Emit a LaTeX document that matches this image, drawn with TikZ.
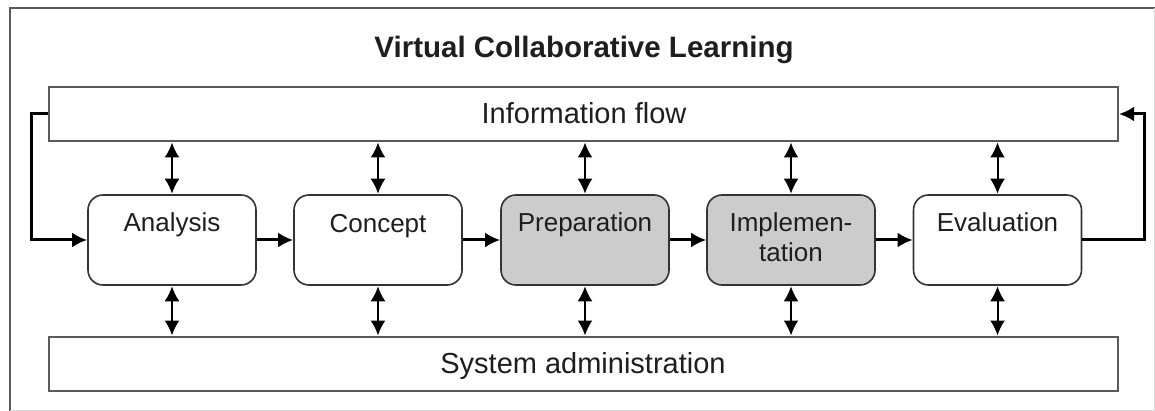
\documentclass[tikz,border=0pt]{standalone}
\usepackage{fontspec}
\setmainfont{Liberation Sans}
\usetikzlibrary{arrows.meta}
\definecolor{edge}{HTML}{333333}
\definecolor{bar}{HTML}{5A5A5A}
\definecolor{shade}{HTML}{CCCCCC}
\definecolor{ink}{HTML}{1E1E1E}
\tikzset{
  proc/.style={draw=edge, line width=1.6pt, rounded corners=15pt, fill=white,
    minimum width=168pt, minimum height=90pt, inner sep=0pt},
  active/.style={proc, fill=shade},
  strip/.style={draw=bar, line width=2pt, fill=white, minimum width=1069pt,
    minimum height=54pt, inner sep=0pt},
  lbl/.style={anchor=base, inner sep=0pt, font=\fontsize{26}{30}\selectfont, text=ink, align=center},
  flow/.style={line width=3pt, -{Latex[length=15pt,width=15pt]}},
  dbl/.style={line width=2pt, {Latex[length=15pt,width=15pt]}-{Latex[length=15pt,width=15pt]}, shorten <=0.5pt, shorten >=0.5pt},
}
\begin{document}
\begin{tikzpicture}[x=1pt,y=-1pt]
  \useasboundingbox (0,0) rectangle (1155,411);
  \fill[white] (0,0) rectangle (1155,411);
  % frame
  \draw[bar, line width=2pt] (10,411) -- (10,8) -- (1155,8);
  \draw[black!15, line width=1pt] (1154,8) -- (1154,410) -- (10,410);

  % title
  \node[anchor=base, inner sep=0pt, font=\bfseries\fontsize{29.5}{30}\selectfont, text=ink]
    (title) at (584,58) {Virtual Collaborative Learning};

  % information and administration strips
  \node[strip] (info) at (583.5,114) {};
  \node[lbl, font=\fontsize{29}{30}\selectfont] (infot) at (584,124) {Information flow};
  \node[strip] (sys) at (583.5,364) {};
  \node[lbl, font=\fontsize{29}{30}\selectfont] (syst) at (583,373) {System administration};

  % process steps
  \node[proc]   (ana) at (172,240) {};
  \node[proc]   (con) at (378,240) {};
  \node[active] (pre) at (585,240) {};
  \node[active] (imp) at (791,240) {};
  \node[proc]   (eva) at (997.5,240) {};

  \node[lbl] (anat) at (172,232) {Analysis};
  \node[lbl] (cont) at (378,233) {Concept};
  \node[lbl] (pret) at (585,232) {Preparation};
  \node[lbl] (impt) at (791,232) {Implemen-};
  \node[lbl] (impt2) at (791,262) {tation};
  \node[lbl] (evat) at (997.5,232) {Evaluation};

  % sequence of steps
  \draw[flow] (ana.east) -- (con.west);
  \draw[flow] (con.east) -- (pre.west);
  \draw[flow] (pre.east) -- (imp.west);
  \draw[flow] (imp.east) -- (eva.west);

  % feedback loops through the information strip
  \draw[flow, line join=miter] (info.west) -- ++(-17,0) |- (ana.west);
  \draw[flow, line join=miter] (eva.east) -- ++(62,0) |- (info.east);

  % exchange with both strips
  \foreach \n in {ana,con,pre,imp,eva}{
    \draw[dbl] (info.south -| \n) -- (\n.north);
    \draw[dbl] (\n.south) -- (sys.north -| \n);
  }
\end{tikzpicture}
\end{document}
